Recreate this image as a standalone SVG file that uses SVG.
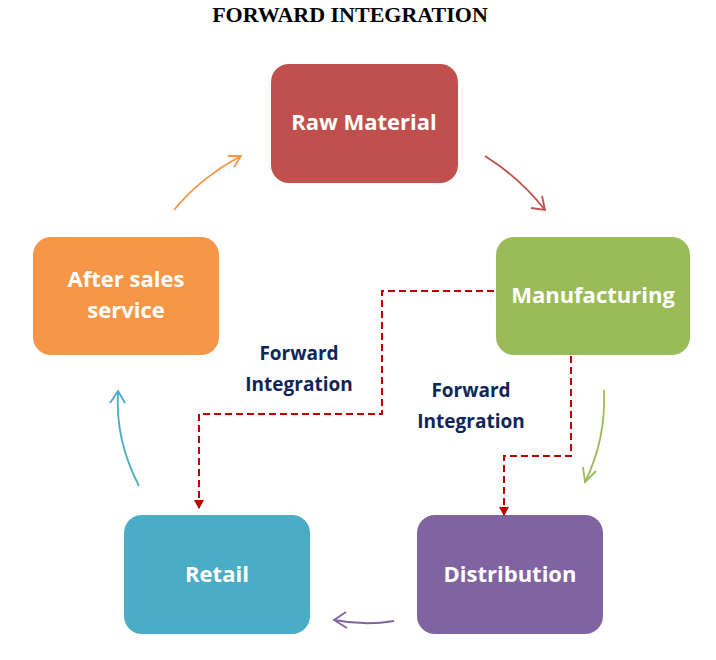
<svg xmlns="http://www.w3.org/2000/svg" width="716" height="660" viewBox="0 0 716 660">
<style>
.t{font-family:"Open Sans","Liberation Sans",sans-serif;font-weight:bold;font-size:22px;fill:#fff;text-anchor:middle}
.l{font-family:"Open Sans","Liberation Sans",sans-serif;font-weight:bold;font-size:19px;fill:#0f2557;text-anchor:middle}
.c{fill:none;stroke-width:1.8}
.d{fill:none;stroke:#c00000;stroke-width:2;stroke-dasharray:7,4}
</style>
<defs>
<marker id="ah" markerWidth="10" markerHeight="10" refX="8" refY="5" orient="auto" markerUnits="userSpaceOnUse"><path d="M0,0 L9,5 L0,10 z" fill="#c00000"/></marker>
</defs>
<rect width="716" height="660" fill="#fff"/>
<text x="350" y="22" text-anchor="middle" font-family="Liberation Serif,serif" font-weight="bold" font-size="22">FORWARD INTEGRATION</text>
<g id="raw"><rect x="271" y="64" width="187" height="119" rx="18" fill="#c0504d"/><text class="t" x="364" y="130">Raw Material</text></g>
<g id="manu"><rect x="496" y="237" width="194" height="118" rx="18" fill="#9bbb59"/><text class="t" x="593" y="303">Manufacturing</text></g>
<g id="after"><rect x="33" y="237" width="186" height="118" rx="18" fill="#f79646"/><text class="t" x="126" y="287">After sales</text><text class="t" x="126" y="318">service</text></g>
<g id="retail"><rect x="124" y="515" width="186" height="119" rx="18" fill="#4bacc6"/><text class="t" x="217" y="582">Retail</text></g>
<g id="dist"><rect x="417" y="515" width="186" height="119" rx="18" fill="#8064a2"/><text class="t" x="510" y="582">Distribution</text></g>
<g id="connectors">
<path class="c" stroke="#c0504d" d="M485,156 Q520,178 545,210 M531,208 L545,210 L542,196"/>
<path class="c" stroke="#9bbb59" d="M604,390 Q606,440 585,482 M583,467 L585,482 L596,471"/>
<path class="c" stroke="#8064a2" d="M394,621 Q365,626 334,620 M346,612 L334,620 L347,628"/>
<path class="c" stroke="#4bacc6" d="M139,486 Q115,440 118,391 M110,403 L118,391 L125,403"/>
<path class="c" stroke="#f79646" d="M174,210 Q200,178 241,156 M228,156 L241,156 L234,167"/>
<path class="d" marker-end="url(#ah)" d="M494,291 H382 V414 H199 V508"/>
<path class="d" marker-end="url(#ah)" d="M571,356 V456 H504 V515"/>
<text class="l" x="299" y="360">Forward</text><text class="l" x="299" y="391">Integration</text>
<text class="l" x="471" y="397">Forward</text><text class="l" x="471" y="428">Integration</text>
</g>
</svg>
